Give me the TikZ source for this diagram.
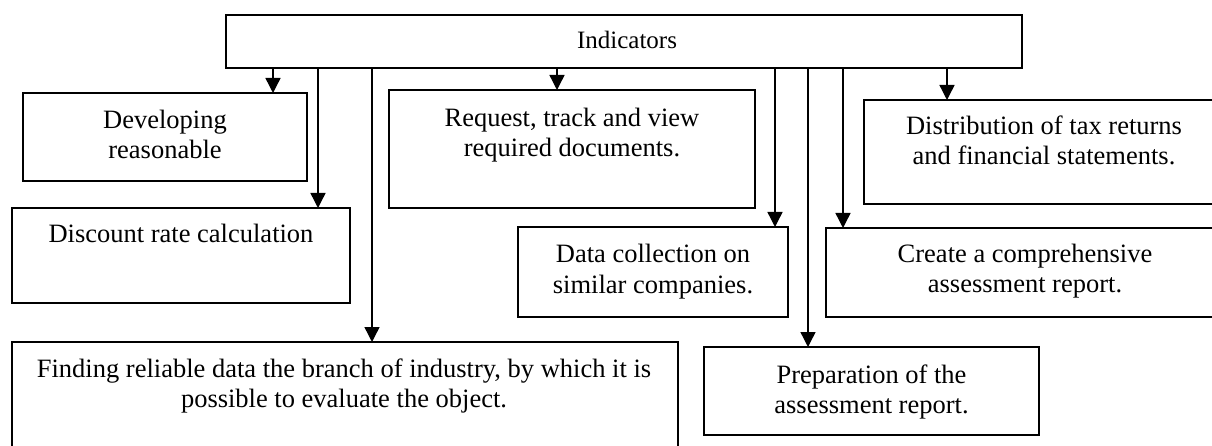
\documentclass[tikz,border=0pt]{standalone}
\usepackage{fontspec}
\setmainfont{Liberation Serif}
\usetikzlibrary{arrows.meta}
\begin{document}
\begin{tikzpicture}[x=1pt,y=-1pt,
  box/.style={draw, line width=1.8pt, rectangle, inner sep=0pt, outer sep=0pt},
  txt/.style={inner sep=0pt, outer sep=0pt, align=center, font=\fontsize{26.5}{30}\selectfont},
  arr/.style={line width=1.4pt, -{Triangle[width=15pt,length=15pt]}}]
\clip (0,0) rectangle (1212,446);
\fill[white] (0,0) rectangle (1212,446);
% boxes
\node[box, minimum width=796pt, minimum height=53pt] (ind) at (624,41.5) {};
\node[box, minimum width=284pt, minimum height=88pt] (dev) at (165,137) {};
\node[box, minimum width=338pt, minimum height=95pt] (disc) at (181,255.5) {};
\node[box, minimum width=666pt, minimum height=138pt] (find) at (345,411) {};
\node[box, minimum width=366pt, minimum height=118pt] (req) at (572,149) {};
\node[box, minimum width=360pt, minimum height=104pt] (dist) at (1044,152) {};
\node[box, minimum width=270pt, minimum height=90pt] (data) at (653,272) {};
\node[box, minimum width=398pt, minimum height=89pt] (create) at (1025,272.5) {};
\node[box, minimum width=335pt, minimum height=88pt] (prep) at (871.5,391) {};
% texts
\node[txt, anchor=base, font=\fontsize{25}{30}\selectfont] (indt) at (627,49) {Indicators};
\node[txt, anchor=north] (devt) at (165,108) {\strut Developing\\\strut reasonable};
\node[txt, anchor=base] (disct) at (181,243) {Discount rate calculation};
\node[txt, anchor=north] (findt) at (344,356) {\strut Finding reliable data the branch of industry, by which it is\\\strut possible to evaluate the object.};
\node[txt, anchor=north] (reqt) at (572,106) {\strut Request, track and view\\\strut required documents.};
\node[txt, anchor=north] (distt) at (1044,114) {\strut Distribution of tax returns\\\strut and financial statements.};
\node[txt, anchor=north] (datat) at (653,242) {\strut Data collection on\\\strut similar companies.};
\node[txt, anchor=north] (createt) at (1025,241) {\strut Create a comprehensive\\\strut assessment report.};
\node[txt, anchor=north] (prept) at (871.5,362) {\strut Preparation of the\\\strut assessment report.};
% connector columns
\coordinate (c1) at (273,0);
\coordinate (c2) at (318,0);
\coordinate (c3) at (372,0);
\coordinate (c4) at (557,0);
\coordinate (c5) at (775,0);
\coordinate (c6) at (808,0);
\coordinate (c7) at (843,0);
\coordinate (c8) at (947,0);
\draw[arr] (ind.south -| c1) -- (dev.north -| c1);
\draw[arr] (ind.south -| c2) -- (disc.north -| c2);
\draw[arr] (ind.south -| c3) -- (find.north -| c3);
\draw[arr] (ind.south -| c4) -- (req.north -| c4);
\draw[arr] (ind.south -| c5) -- (data.north -| c5);
\draw[arr] (ind.south -| c6) -- (prep.north -| c6);
\draw[arr] (ind.south -| c7) -- (create.north -| c7);
\draw[arr] (ind.south -| c8) -- (dist.north -| c8);
\end{tikzpicture}
\end{document}
